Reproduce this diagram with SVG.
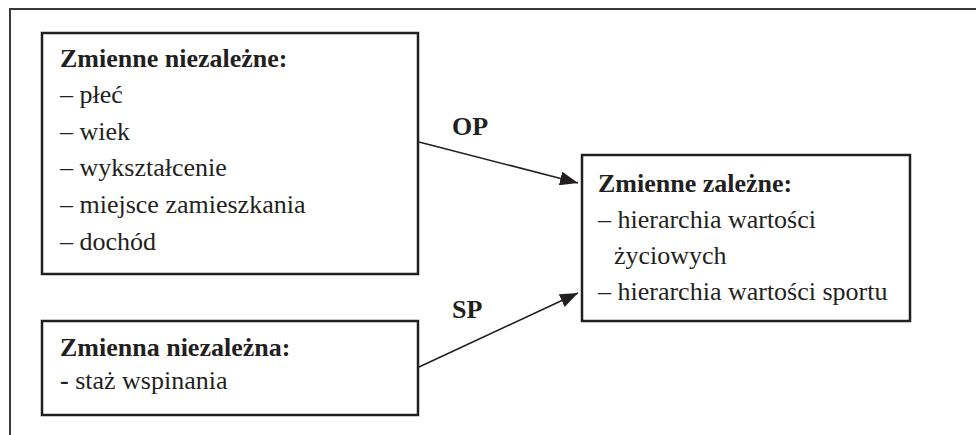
<svg xmlns="http://www.w3.org/2000/svg" width="976" height="435" viewBox="0 0 976 435">
<defs>
<marker id="ah" markerWidth="20" markerHeight="14" refX="18" refY="7" orient="auto" markerUnits="userSpaceOnUse">
<path d="M0,0 L18,7 L0,14 Z" fill="#231f20"/>
</marker>
<style>
.box{fill:#fff;stroke:#231f20;stroke-width:2.5}
.frame{fill:none;stroke:#3a3a3a;stroke-width:2}
text{font-family:"Liberation Serif","Times New Roman",serif;font-size:26px;fill:#231f20}
.b{font-weight:bold}
.conn{stroke:#231f20;stroke-width:1.6;fill:none}
</style>
</defs>
<rect width="976" height="435" fill="#fff"/>
<path class="frame" d="M10,436 L10,9 L977,9"/>
<g id="connectors">
<line class="conn" x1="419" y1="142" x2="578" y2="183" marker-end="url(#ah)"/>
<line class="conn" x1="419" y1="367" x2="578" y2="293" marker-end="url(#ah)"/>
<text class="b" x="452" y="135">OP</text>
<text class="b" x="452" y="318">SP</text>
</g>
<g id="node-niezalezne">
<rect class="box" x="42" y="33" width="376" height="241"/>
<text class="b" x="60" y="67">Zmienne niezależne:</text>
<text x="60" y="103">– płeć</text>
<text x="60" y="140">– wiek</text>
<text x="60" y="176">– wykształcenie</text>
<text x="60" y="213">– miejsce zamieszkania</text>
<text x="60" y="250">– dochód</text>
</g>
<g id="node-niezalezna">
<rect class="box" x="42" y="321" width="376" height="94"/>
<text class="b" x="60" y="356">Zmienna niezależna:</text>
<text x="60" y="389"><tspan class="b">-</tspan> staż wspinania</text>
</g>
<g id="node-zalezne">
<rect class="box" x="582" y="155" width="328" height="166"/>
<text class="b" x="598" y="192">Zmienne zależne:</text>
<text x="598" y="228">– hierarchia wartości</text>
<text x="614" y="264">życiowych</text>
<text x="598" y="300">– hierarchia wartości sportu</text>
</g>
</svg>
